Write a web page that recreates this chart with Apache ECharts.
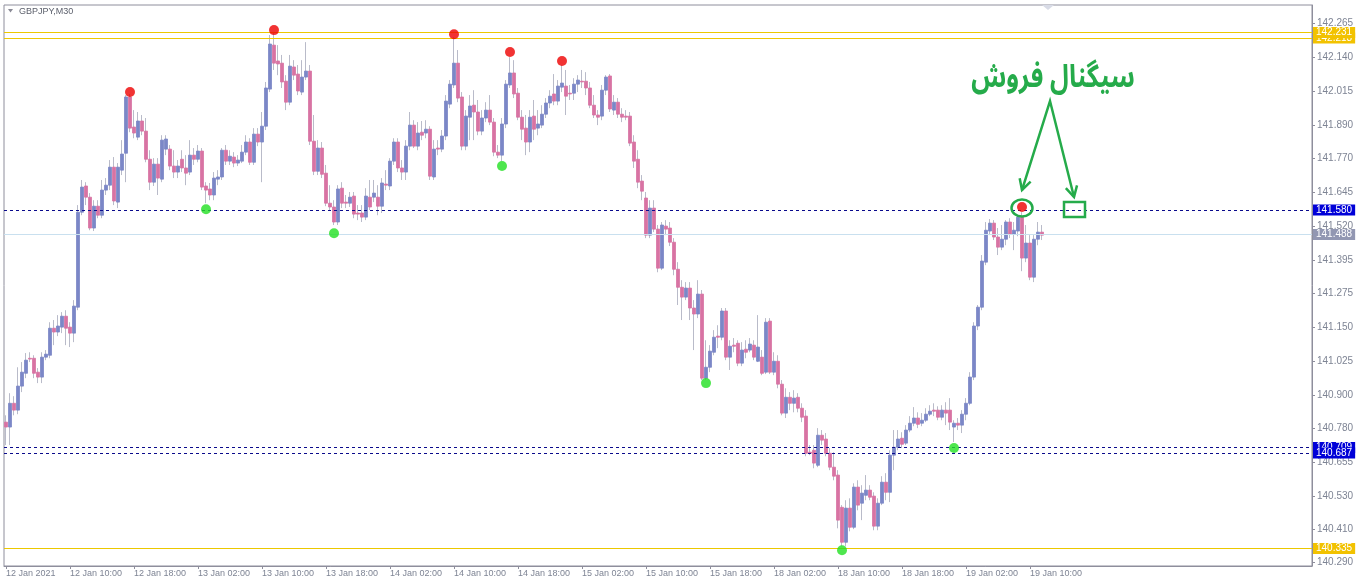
<!DOCTYPE html>
<html>
<head>
<meta charset="utf-8">
<script src="https://cdn.jsdelivr.net/npm/echarts@6/dist/echarts.min.js"></script>
<style>
    html, body { margin: 0; padding: 0; background: #fff; }
    #chart { width: 1360px; height: 583px; }
</style>
</head>
<body>
<div id="chart"></div>
<script type="text/javascript">
    // GBPJPY M30, one row per bar: [open, close, low, high]
    var candles = [
        [140.803,140.785,140.719,140.828],[140.785,140.872,140.719,140.909],[140.872,140.847,140.828,140.898],[140.847,140.935,140.832,141.004],
        [140.935,140.986,140.913,141.023],[140.982,141.030,140.964,141.056],[141.037,141.034,141.023,141.059],[141.037,140.982,140.964,141.048],
        [140.986,140.968,140.946,141.001],[140.968,141.041,140.946,141.059],[141.041,141.052,141.030,141.067],[141.048,141.147,141.037,141.169],
        [141.147,141.133,141.085,141.177],[141.133,141.155,141.118,141.195],[141.151,141.191,141.129,141.206],[141.191,141.147,141.085,141.213],
        [141.151,141.129,141.078,141.169],[141.129,141.228,141.096,141.250],[141.224,141.572,141.213,141.598],[141.572,141.664,141.561,141.690],
        [141.668,141.627,141.598,141.682],[141.627,141.514,141.506,141.642],[141.514,141.594,141.503,141.616],[141.594,141.561,141.550,141.616],
        [141.561,141.653,141.550,141.690],[141.653,141.671,141.635,141.697],[141.671,141.737,141.653,141.763],[141.737,141.613,141.598,141.774],
        [141.609,141.737,141.587,141.752],[141.726,141.785,141.708,141.836],[141.788,141.994,141.682,142.001],[141.994,141.880,141.865,142.005],
        [141.884,141.862,141.843,141.946],[141.847,141.906,141.836,141.939],[141.906,141.869,141.854,141.928],[141.869,141.766,141.755,141.917],
        [141.766,141.682,141.653,141.799],[141.682,141.748,141.668,141.770],[141.748,141.697,141.635,141.770],[141.693,141.836,141.682,141.854],
        [141.803,141.840,141.781,141.854],[141.803,141.741,141.726,141.818],[141.741,141.719,141.697,141.799],[141.719,141.741,141.697,141.763],
        [141.766,141.734,141.719,141.799],[141.734,141.715,141.671,141.781],[141.719,141.781,141.708,141.836],[141.781,141.766,141.745,141.807],
        [141.766,141.796,141.755,141.818],[141.796,141.664,141.653,141.807],[141.668,141.653,141.605,141.682],[141.657,141.635,141.616,141.679],
        [141.635,141.697,141.616,141.719],[141.693,141.701,141.671,141.726],[141.701,141.799,141.690,141.807],[141.799,141.759,141.745,141.818],
        [141.759,141.777,141.745,141.799],[141.774,141.752,141.737,141.792],[141.752,141.763,141.741,141.781],[141.759,141.792,141.752,141.818],
        [141.792,141.829,141.781,141.854],[141.829,141.755,141.745,141.843],[141.755,141.858,141.745,141.880],[141.858,141.829,141.814,141.880],
        [141.829,141.887,141.682,141.939],[141.887,142.027,141.873,142.049],[142.023,142.188,142.012,142.221],[142.184,142.118,142.093,142.231],
        [142.126,142.115,142.074,142.184],[142.118,142.049,142.027,142.148],[142.052,141.975,141.946,142.074],[141.975,142.107,141.964,142.148],
        [142.104,142.074,142.056,142.129],[142.078,142.016,142.001,142.111],[142.012,142.067,142.001,142.129],[142.067,142.089,142.056,142.195],
        [142.089,141.832,141.818,142.111],[141.832,141.722,141.708,141.928],[141.722,141.807,141.708,141.836],[141.807,141.711,141.697,141.829],
        [141.715,141.605,141.594,141.745],[141.605,141.591,141.580,141.671],[141.591,141.536,141.525,141.616],[141.536,141.657,141.525,141.671],
        [141.660,141.605,141.587,141.682],[141.609,141.605,141.587,141.635],[141.605,141.627,141.591,141.646],[141.631,141.565,141.550,141.646],
        [141.569,141.565,141.543,141.598],[141.569,141.554,141.536,141.598],[141.554,141.631,141.543,141.660],[141.627,141.591,141.580,141.690],
        [141.627,141.642,141.609,141.690],[141.627,141.594,141.561,141.671],[141.594,141.679,141.569,141.697],[141.675,141.671,141.653,141.726],
        [141.668,141.759,141.653,141.770],[141.759,141.829,141.745,141.843],[141.829,141.734,141.719,141.843],[141.734,141.719,141.690,141.763],
        [141.719,141.814,141.690,141.836],[141.814,141.891,141.799,141.939],[141.891,141.814,141.807,141.909],[141.814,141.862,141.799,141.902],
        [141.865,141.854,141.836,141.906],[141.862,141.876,141.843,141.909],[141.876,141.704,141.690,141.887],[141.701,141.803,141.690,141.836],
        [141.807,141.803,141.781,141.836],[141.803,141.851,141.792,141.873],[141.851,141.979,141.836,142.001],[141.968,142.041,141.953,142.056],
        [142.038,142.118,142.027,142.213],[142.118,141.990,141.975,142.166],[141.994,141.814,141.799,142.012],[141.814,141.924,141.799,141.946],
        [141.920,141.961,141.836,142.001],[141.964,141.939,141.836,142.019],[141.939,141.869,141.854,141.983],[141.869,141.917,141.854,141.946],
        [141.917,141.946,141.902,141.975],[141.946,141.902,141.891,142.001],[141.902,141.792,141.777,141.917],[141.792,141.781,141.770,141.818],
        [141.781,141.895,141.759,141.917],[141.895,142.041,141.880,142.056],[142.038,142.082,142.027,142.140],[142.082,142.005,141.990,142.129],
        [142.008,141.920,141.909,142.027],[141.920,141.876,141.836,141.946],[141.880,141.829,141.781,141.928],[141.829,141.920,141.792,141.946],
        [141.924,141.876,141.836,141.983],[141.880,141.895,141.854,141.946],[141.891,141.931,141.880,141.964],[141.931,141.972,141.917,141.990],
        [141.972,141.997,141.953,142.019],[142.005,141.979,141.964,142.078],[141.979,142.034,141.964,142.056],[142.030,142.045,142.012,142.111],
        [142.034,141.997,141.928,142.093],[142.008,142.005,141.983,142.038],[142.008,142.041,141.983,142.063],[142.041,142.056,142.012,142.074],
        [142.052,142.049,142.027,142.093],[142.052,142.027,142.001,142.085],[142.027,141.964,141.953,142.049],[141.964,141.928,141.917,142.001],
        [141.928,141.920,141.891,141.946],[141.924,142.019,141.909,142.038],[142.019,142.067,142.001,142.074],[142.071,141.950,141.939,142.078],
        [141.946,141.975,141.928,142.001],[141.975,141.931,141.917,141.990],[141.931,141.920,141.902,141.953],[141.924,141.920,141.909,141.946],
        [141.924,141.825,141.814,141.939],[141.829,141.759,141.734,141.854],[141.766,141.682,141.660,141.799],[141.686,141.649,141.616,141.708],
        [141.624,141.488,141.477,141.646],[141.488,141.587,141.477,141.616],[141.587,141.510,141.499,141.616],[141.510,141.367,141.352,141.525],
        [141.367,141.525,141.360,141.536],[141.521,141.510,141.488,141.543],[141.514,141.462,141.448,141.536],[141.462,141.363,141.341,141.477],
        [141.363,141.297,141.232,141.389],[141.297,141.261,141.177,141.323],[141.261,141.294,141.250,141.316],[141.294,141.221,141.177,141.316],
        [141.221,141.199,141.067,141.250],[141.199,141.272,141.184,141.323],[141.272,140.964,140.957,141.287],[140.964,141.004,140.957,141.103],
        [141.004,141.063,140.986,141.085],[141.059,141.114,141.048,141.140],[141.118,141.114,141.074,141.158],[141.114,141.210,141.103,141.221],
        [141.210,141.041,141.030,141.221],[141.041,141.081,140.994,141.103],[141.085,141.081,141.059,141.111],[141.092,141.019,141.008,141.103],
        [141.019,141.067,141.008,141.096],[141.070,141.059,141.037,141.103],[141.067,141.089,141.059,141.111],[141.085,141.041,141.030,141.103],
        [141.026,141.078,141.023,141.195],[141.041,140.982,140.975,141.067],[140.986,141.169,140.979,141.184],[141.173,140.986,140.979,141.184],
        [140.986,141.026,140.975,141.059],[141.026,140.942,140.927,141.048],[140.942,140.836,140.828,140.957],[140.836,140.894,140.818,140.927],
        [140.894,140.872,140.847,140.913],[140.872,140.891,140.839,140.920],[140.894,140.854,140.839,140.909],[140.854,140.821,140.803,140.872],
        [140.825,140.689,140.678,140.847],[140.693,140.689,140.682,140.719],[140.700,140.653,140.634,140.719],[140.645,140.755,140.638,140.781],
        [140.755,140.737,140.719,140.774],[140.741,140.689,140.678,140.763],[140.689,140.638,140.627,140.708],[140.638,140.605,140.590,140.693],
        [140.609,140.444,140.414,140.627],[140.491,140.363,140.348,140.499],[140.363,140.488,140.348,140.517],[140.488,140.418,140.403,140.524],
        [140.418,140.565,140.411,140.579],[140.565,140.499,140.480,140.590],[140.506,140.543,140.444,140.572],[140.535,140.554,140.517,140.609],
        [140.554,140.528,140.517,140.572],[140.532,140.422,140.407,140.546],[140.422,140.506,140.407,140.524],[140.506,140.583,140.499,140.605],
        [140.583,140.546,140.517,140.616],[140.546,140.682,140.510,140.700],[140.682,140.711,140.627,140.774],[140.711,140.741,140.700,140.774],
        [140.744,140.722,140.708,140.766],[140.726,140.774,140.719,140.792],[140.774,140.799,140.766,140.825],[140.799,140.818,140.788,140.858],
        [140.818,140.795,140.781,140.839],[140.799,140.810,140.788,140.836],[140.810,140.832,140.803,140.854],[140.832,140.843,140.825,140.865],
        [140.847,140.843,140.825,140.872],[140.847,140.821,140.810,140.861],[140.821,140.847,140.810,140.865],[140.847,140.836,140.792,140.876],
        [140.847,140.803,140.774,140.891],[140.785,140.799,140.730,140.810],[140.799,140.792,140.774,140.818],[140.792,140.832,140.763,140.847],
        [140.832,140.872,140.810,140.891],[140.872,140.968,140.865,140.986],[140.968,141.155,140.957,141.169],[141.155,141.224,141.140,141.232],
        [141.224,141.393,141.213,141.415],[141.389,141.506,141.378,141.536],[141.503,141.532,141.488,141.547],[141.532,141.481,141.470,141.543],
        [141.481,141.444,141.415,141.514],[141.444,141.473,141.433,141.525],[141.473,141.536,141.451,141.543],[141.536,141.492,141.477,141.550],
        [141.492,141.506,141.433,141.536],[141.503,141.554,141.484,141.561],[141.554,141.404,141.356,141.572],[141.404,141.459,141.389,141.525],
        [141.459,141.334,141.323,141.488],[141.334,141.473,141.316,141.488],[141.473,141.499,141.451,141.536],[141.499,141.488,141.470,141.525]
    ];

    // fractal markers: bar index + price where the dot sits
    var upIdx = [31, 67, 112, 126, 139, 254];
    var upPrice = [142.012, 142.239, 142.224, 142.159, 142.126, 141.591];
    var downIdx = [50, 82, 124, 175, 209, 237];
    var downPrice = [141.583, 141.495, 141.741, 140.946, 140.334, 140.708];

    // horizontal levels
    var yellowLevels = [142.213, 142.231, 140.335];
    var dashLevels = [141.580, 140.709, 140.687];
    var bidLevel = 141.488;

    var xLabels = ['12 Jan 2021', '12 Jan 10:00', '12 Jan 18:00', '13 Jan 02:00', '13 Jan 10:00', '13 Jan 18:00',
        '14 Jan 02:00', '14 Jan 10:00', '14 Jan 18:00', '15 Jan 02:00', '15 Jan 10:00', '15 Jan 18:00',
        '18 Jan 02:00', '18 Jan 10:00', '18 Jan 18:00', '19 Jan 02:00', '19 Jan 10:00'];
    var yTicks = [142.265, 142.140, 142.015, 141.890, 141.770, 141.645, 141.520, 141.395, 141.275,
        141.150, 141.025, 140.900, 140.780, 140.655, 140.530, 140.410, 140.290];

    var signalText = 'سیگنال فروش';
    var slotCount = 327;   // bars that fit across the window, right part is empty shift space
    var labelStep = 16;

    var slots = [];
    for (var i = 0; i < slotCount; i++) slots.push(String(i));

    var bodies = candles.map(function (c) {
        return [c[0], c[1], Math.min(c[0], c[1]), Math.max(c[0], c[1])];
    });

    function showLabel(idx) {
        return idx % labelStep === 0 && idx / labelStep < xLabels.length;
    }

    var axisFont = 'Liberation Sans';
    var lines = [];
    yellowLevels.forEach(function (v) {
        lines.push({
            name: v.toFixed(3),
            yAxis: v,
            lineStyle: {color: '#ecc800', type: 'solid', width: 1},
            label: {backgroundColor: '#f2c200'}
        });
    });
    lines.push({
        name: bidLevel.toFixed(3),
        yAxis: bidLevel,
        lineStyle: {color: '#c9e0ef', type: 'solid', width: 1},
        label: {backgroundColor: '#9297b2'}
    });
    dashLevels.forEach(function (v) {
        lines.push({
            name: v.toFixed(3),
            yAxis: v,
            lineStyle: {color: '#0a0a8c', type: [3, 3], width: 1},
            label: {backgroundColor: '#0000d8'}
        });
    });

    var myChart = echarts.init(document.getElementById('chart'));
    var option = {
        animation: false,
        backgroundColor: '#ffffff',
        grid: {
            left: 4, right: 48, top: 5, bottom: 17,
            show: true, borderColor: '#8e8e9c', borderWidth: 1, backgroundColor: '#ffffff'
        },
        xAxis: {
            type: 'category',
            data: slots,
            boundaryGap: true,
            axisLine: {show: true, lineStyle: {color: '#8e8e9c'}},
            axisTick: {show: true, alignWithLabel: true, length: 3, interval: function (idx) { return showLabel(idx); }, lineStyle: {color: '#8e8e9c'}},
            axisLabel: {
                interval: function (idx) { return showLabel(idx); },
                formatter: function (val, idx) { return xLabels[idx / labelStep] || ''; },
                align: 'left',
                margin: 3,
                color: '#7e8494',
                fontSize: 9,
                fontFamily: axisFont
            },
            splitLine: {show: false}
        },
        yAxis: {
            type: 'value',
            position: 'right',
            min: 140.276,
            max: 142.331,
            scale: true,
            axisLine: {show: true, lineStyle: {color: '#8e8e9c'}},
            axisTick: {show: true, length: 3, customValues: yTicks, lineStyle: {color: '#8e8e9c'}},
            axisLabel: {
                customValues: yTicks,
                formatter: function (v) { return v.toFixed(3); },
                margin: 5,
                color: '#7e8494',
                fontSize: 10,
                fontFamily: axisFont
            },
            splitLine: {show: false}
        },
        series: [
            {
                name: 'wick',
                type: 'candlestick',
                data: candles,
                barWidth: 1,
                itemStyle: {color: '#b9bbc9', color0: '#b9bbc9', borderColor: '#b9bbc9', borderColor0: '#b9bbc9', borderWidth: 1},
                silent: true,
                z: 2
            },
            {
                name: 'GBPJPY,M30',
                type: 'candlestick',
                data: bodies,
                barWidth: 3,
                itemStyle: {color: '#7b87c7', color0: '#d873a3', borderColor: '#7b87c7', borderColor0: '#d873a3', borderWidth: 0.8},
                z: 3,
                markLine: {
                    silent: true,
                    symbol: ['none', 'none'],
                    data: lines,
                    label: {
                        show: true,
                        position: 'end',
                        distance: 1,
                        formatter: '{b}',
                        color: '#ffffff',
                        fontSize: 10,
                        fontFamily: axisFont,
                        padding: [1, 3, 0, 3],
                        lineHeight: 10
                    }
                }
            },
            {
                name: 'fractal up',
                type: 'scatter',
                data: upIdx.map(function (x, k) { return [x, upPrice[k]]; }),
                symbolSize: 10,
                itemStyle: {color: '#ee0000'},
                silent: true,
                z: 5
            },
            {
                name: 'fractal down',
                type: 'scatter',
                data: downIdx.map(function (x, k) { return [x, downPrice[k]]; }),
                symbolSize: 10,
                itemStyle: {color: '#22e022'},
                silent: true,
                z: 5
            }
        ]
    };
    myChart.setOption(option);

    // signal annotation, anchored to the last up fractal
    var sig = myChart.convertToPixel({seriesIndex: 1}, [upIdx[upIdx.length - 1], upPrice[upPrice.length - 1]]);
    var box = myChart.convertToPixel({seriesIndex: 1}, [267, dashLevels[0]]);
    var green = '#25ab4a';
    var apex = [sig[0] + 28, sig[1] - 106];
    var tipL = [sig[0], sig[1] - 17];
    var tipR = [box[0], box[1] - 13];

    function head(tip, from) {
        var dx = tip[0] - from[0], dy = tip[1] - from[1];
        var len = Math.sqrt(dx * dx + dy * dy);
        var ux = dx / len, uy = dy / len, s = 12;
        var a = 0.5;
        var c = Math.cos(a), n = Math.sin(a);
        return [
            [tip[0] - s * (ux * c - uy * n), tip[1] - s * (uy * c + ux * n)],
            tip,
            [tip[0] - s * (ux * c + uy * n), tip[1] - s * (uy * c - ux * n)]
        ];
    }

    myChart.setOption({
        graphic: [
            {type: 'polygon', shape: {points: [[8, 9], [13, 9], [10.5, 12.5]]}, style: {fill: '#8a8a96'}, z: 10},
            {type: 'text', left: 19, top: 7, style: {text: 'GBPJPY,M30', fill: '#5a5e6a', fontSize: 9, fontFamily: axisFont}, z: 10},
            {type: 'polygon', shape: {points: [[1042, 5], [1054, 5], [1048, 10]]}, style: {fill: '#d8dbe6'}, z: 10},
            {
                type: 'text', x: apex[0] + 3, y: apex[1] - 19, scaleX: 0.8,
                style: {
                    text: signalText, fill: green, fontSize: 32, fontWeight: 'bold',
                    fontFamily: '"Noto Sans Arabic", "Noto Naskh Arabic", "DejaVu Sans"',
                    align: 'center', verticalAlign: 'middle'
                },
                z: 10
            },
            {type: 'polyline', shape: {points: [tipL, apex, tipR]}, style: {stroke: green, lineWidth: 2.5, fill: null}, z: 10},
            {type: 'polyline', shape: {points: head(tipL, apex)}, style: {stroke: green, lineWidth: 2.5, fill: null}, z: 10},
            {type: 'polyline', shape: {points: head(tipR, apex)}, style: {stroke: green, lineWidth: 2.5, fill: null}, z: 10},
            {type: 'ellipse', shape: {cx: sig[0], cy: sig[1] + 1, rx: 10.5, ry: 8.5}, style: {stroke: green, lineWidth: 2.5, fill: null}, z: 10},
            {type: 'rect', shape: {x: box[0] - 10, y: box[1] - 8, width: 21, height: 15}, style: {stroke: green, lineWidth: 2.5, fill: null}, z: 10}
        ]
    });
</script>
</body>
</html>
